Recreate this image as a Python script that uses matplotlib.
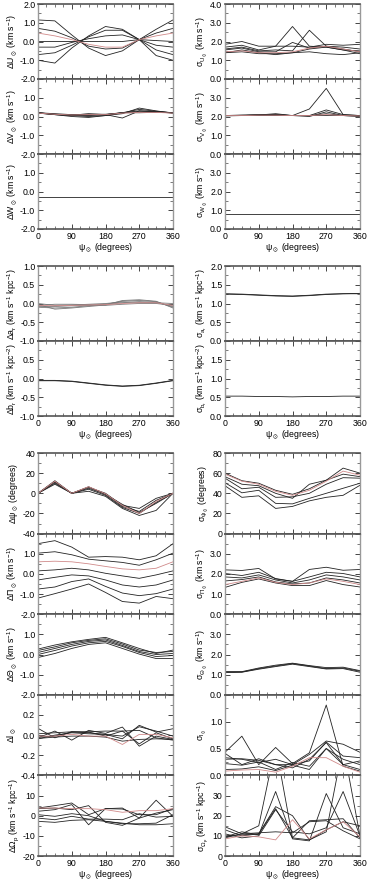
import numpy as np
import matplotlib
matplotlib.use('Agg')
import matplotlib.pyplot as plt
from matplotlib.ticker import MultipleLocator, FixedLocator

plt.rcParams['font.family'] = ['Liberation Sans', 'DejaVu Sans']
plt.rcParams['mathtext.default'] = 'regular'
plt.rcParams['axes.unicode_minus'] = False

psi = [0, 45, 90, 135, 180, 225, 270, 315, 360]

# ---- group 1: solar velocity ----
dU = [[1.15, 1.1, 0.35, -0.35, -0.75, -0.5, 0.1, 0.65, 1.15],
      [0.7, 0.55, 0.2, -0.25, -0.4, -0.35, 0.1, 0.45, 0.7],
      [0.0, 0.0, 0.0, 0.0, 0.0, 0.0, 0.1, 0.05, 0.0],
      [-0.3, -0.3, -0.05, 0.15, 0.3, 0.35, 0.1, -0.2, -0.3],
      [-0.7, -0.6, -0.2, 0.25, 0.6, 0.6, 0.1, -0.45, -0.7],
      [-1.0, -1.15, -0.35, 0.3, 0.8, 0.65, 0.1, -0.75, -1.0]]
dU_red = [0.45, 0.3, 0.1, -0.15, -0.3, -0.3, 0.1, 0.3, 0.45]

dV = [[0.2, 0.12, 0.08, 0.08, 0.1, 0.2, 0.38, 0.28, 0.2],
      [0.2, 0.1, 0.05, 0.0, 0.05, 0.15, 0.45, 0.3, 0.18],
      [0.18, 0.1, 0.07, 0.15, 0.1, -0.08, 0.3, 0.25, 0.18],
      [0.2, 0.12, 0.05, 0.05, 0.1, 0.2, 0.25, 0.25, 0.2],
      [0.18, 0.1, 0.0, -0.05, 0.05, 0.2, 0.2, 0.22, 0.2],
      [0.2, 0.15, 0.1, 0.12, 0.12, 0.2, 0.3, 0.25, 0.2]]
dV_red = [0.18, 0.12, 0.08, 0.1, 0.1, 0.18, 0.22, 0.22, 0.18]

dW = [[-0.3, -0.3, -0.3, -0.3, -0.3, -0.3, -0.3, -0.3, -0.3]]

sU = [[1.4, 1.45, 1.35, 1.35, 1.4, 1.45, 1.35, 1.3, 1.4],
      [1.4, 1.55, 1.4, 1.3, 1.4, 1.6, 1.7, 1.55, 1.5],
      [1.55, 1.65, 1.45, 1.45, 1.95, 1.65, 1.75, 1.6, 1.45],
      [1.7, 1.8, 1.55, 1.75, 2.8, 1.75, 1.7, 1.55, 1.35],
      [1.6, 1.7, 1.5, 1.55, 1.5, 2.6, 1.75, 1.7, 1.6],
      [1.85, 2.0, 1.75, 1.75, 1.75, 1.7, 1.85, 1.8, 1.85]]
sU_red = [1.45, 1.5, 1.4, 1.4, 1.45, 1.65, 1.75, 1.6, 1.45]

sV = [[2.05, 2.05, 2.08, 2.1, 2.05, 2.4, 3.5, 2.1, 2.05],
      [2.05, 2.08, 2.1, 2.1, 2.05, 2.05, 2.35, 2.1, 2.05],
      [2.05, 2.05, 2.08, 2.15, 2.05, 2.0, 2.25, 2.05, 2.0],
      [2.03, 2.05, 2.05, 2.08, 2.05, 2.05, 2.15, 2.05, 2.02],
      [2.05, 2.06, 2.07, 2.05, 2.05, 2.05, 2.05, 2.05, 2.05]]
sV_red = [2.05, 2.05, 2.07, 2.07, 2.05, 2.05, 2.1, 2.05, 2.03]

sW = [[0.8, 0.8, 0.8, 0.8, 0.8, 0.8, 0.8, 0.8, 0.8]]

# ---- group 2: radial velocity field ----
da = [[-0.05, -0.02, -0.02, -0.03, -0.05, -0.02, 0.0, 0.0, -0.05],
      [-0.08, -0.08, -0.06, -0.05, -0.03, 0.02, 0.05, 0.03, -0.08],
      [-0.1, -0.12, -0.1, -0.06, -0.02, 0.06, 0.08, 0.05, -0.1],
      [-0.03, -0.15, -0.12, -0.08, -0.04, 0.08, 0.1, 0.06, -0.12],
      [0.0, -0.05, -0.04, -0.02, 0.0, 0.04, 0.03, 0.02, 0.0]]
da_red = [-0.05, -0.06, -0.05, -0.04, -0.03, 0.0, 0.02, 0.02, -0.05]

db = [[-0.05, -0.05, -0.07, -0.12, -0.17, -0.2, -0.18, -0.12, -0.05],
      [-0.06, -0.06, -0.08, -0.13, -0.18, -0.21, -0.19, -0.13, -0.06]]

sa = [[1.26, 1.25, 1.23, 1.21, 1.2, 1.22, 1.25, 1.26, 1.27],
      [1.25, 1.24, 1.22, 1.2, 1.19, 1.21, 1.24, 1.26, 1.26]]

sb = [[0.53, 0.53, 0.52, 0.52, 0.51, 0.52, 0.52, 0.53, 0.53]]

# ---- group 3: spiral arm parameters ----
dpsi = [[0, 12.5, 0, 6, 0, -12, -15, -5, 0],
        [0, 11, 0, 5, -1, -13, -18, -7, 0],
        [0, 10, 0, 4, -2, -14, -20, -9, 0],
        [0, 9, 0, 2, -3, -15, -22, -17, 0],
        [0, 11.5, 0, 6.5, -1, -11, -19, -10, 0]]
dpsi_red = [0, 12, 0, 6.5, -0.5, -12, -20, -8, 0]

dPi = [[1.5, 1.65, 1.33, 0.83, 0.86, 0.83, 0.7, 0.9, 1.5],
       [1.03, 1.1, 0.95, 0.73, 0.65, 0.57, 0.43, 0.7, 1.03],
       [0.15, 0.2, 0.28, 0.2, 0.03, -0.1, -0.22, -0.05, 0.15],
       [-0.3, -0.17, -0.05, -0.1, -0.3, -0.55, -0.65, -0.55, -0.3],
       [-0.75, -0.65, -0.38, -0.25, -0.62, -0.95, -1.08, -0.98, -0.75],
       [-1.2, -0.98, -0.75, -0.5, -0.92, -1.37, -1.45, -1.12, -1.23]]
dPi_red = [0.6, 0.63, 0.6, 0.5, 0.37, 0.25, 0.2, 0.28, 0.6]

dTh = [[0.27, 0.47, 0.63, 0.75, 0.85, 0.58, 0.3, 0.05, 0.22],
       [0.2, 0.38, 0.58, 0.7, 0.78, 0.52, 0.22, 0.1, 0.15],
       [0.1, 0.3, 0.5, 0.65, 0.72, 0.45, 0.15, 0.0, 0.05],
       [0.0, 0.2, 0.42, 0.58, 0.65, 0.4, 0.1, -0.1, -0.05],
       [-0.15, 0.05, 0.3, 0.5, 0.58, 0.3, 0.02, -0.2, -0.2]]

dl = [[0.067, -0.027, 0.033, 0.023, 0.007, -0.037, 0.097, 0.03, 0.063],
      [-0.027, 0.04, -0.05, 0.047, 0.017, 0.08, -0.11, -0.01, -0.043],
      [-0.02, -0.01, 0.03, 0.033, 0.04, 0.04, -0.087, 0.023, -0.037],
      [-0.037, 0.0, 0.023, 0.013, 0.007, -0.01, 0.083, 0.04, -0.01],
      [-0.033, -0.02, -0.01, -0.01, -0.02, -0.06, -0.043, -0.037, -0.043],
      [0.013, 0.023, 0.033, 0.03, -0.01, 0.04, 0.047, -0.027, -0.05]]
dl_red = [-0.01, -0.01, 0.007, -0.01, -0.01, -0.093, 0.007, 0.007, -0.027]

dOm = [[3.8, 5, 6.3, 0.5, 3.5, 3.8, -1.2, 7.7, -0.3],
       [3.5, 3.8, 3, 5, -3.3, -4.8, -1.2, 1.3, 3],
       [2.2, 3, 5.5, -4.5, 3.5, 3.3, 0.5, 0.5, 3.5],
       [0.5, -0.3, 1, 0, -2.8, -4, -4, -3.7, 0.5],
       [-1.2, -2, -0.3, -1.7, -1.7, -2, 1, -0.7, -0.3],
       [-2.8, -3.3, -2.3, -2, -2.8, -3.7, -4.5, -4.5, -4]]
dOm_red = [3.8, 3.8, 3.5, 3.5, 3, 1.7, 2.5, 2.5, 3.5]

spsi = [[60, 52.5, 50, 43, 39, 44.5, 53, 65, 60],
        [56.5, 49, 47.5, 40, 35, 49, 53, 59, 56.5],
        [55, 44.5, 46, 36, 36.5, 40, 49, 55.5, 55],
        [50.5, 40.5, 43, 30, 29.5, 35, 40, 45, 50],
        [47.5, 36, 37.5, 25, 27, 32.5, 36, 38, 48]]
spsi_red = [59, 52, 49, 42, 38, 43, 52, 62, 58]

sPi = [[2.2, 2.17, 2.27, 1.75, 1.63, 2.22, 2.33, 2.18, 2.22],
       [2.02, 1.92, 2.08, 1.77, 1.63, 1.85, 2.08, 2.02, 1.85],
       [1.85, 1.8, 1.95, 1.7, 1.55, 1.7, 1.95, 1.85, 1.7],
       [1.65, 1.72, 1.85, 1.6, 1.5, 1.55, 1.8, 1.7, 1.55],
       [1.33, 1.58, 1.75, 1.55, 1.42, 1.42, 1.67, 1.47, 1.35]]
sPi_red = [1.47, 1.63, 1.8, 1.58, 1.47, 1.55, 1.75, 1.63, 1.47]

sTh = [[1.13, 1.13, 1.3, 1.43, 1.55, 1.43, 1.3, 1.33, 1.17],
       [1.15, 1.15, 1.33, 1.47, 1.57, 1.45, 1.35, 1.37, 1.2],
       [1.1, 1.12, 1.27, 1.4, 1.52, 1.4, 1.28, 1.3, 1.12]]

sl = [[0.43, 0.73, 0.2, 0.52, 0.22, 0.42, 1.31, 0.17, 0.08],
      [0.41, 0.2, 0.31, 0.2, 0.2, 0.39, 0.64, 0.58, 0.43],
      [0.33, 0.3, 0.24, 0.3, 0.2, 0.27, 0.62, 0.36, 0.33],
      [0.3, 0.31, 0.28, 0.2, 0.14, 0.3, 0.61, 0.2, 0.27],
      [0.22, 0.19, 0.25, 0.11, 0.24, 0.17, 0.5, 0.3, 0.2],
      [0.11, 0.12, 0.16, 0.09, 0.19, 0.11, 0.5, 0.2, 0.11]]
sl_red = [0.08, 0.1, 0.11, 0.06, 0.17, 0.33, 0.33, 0.17, 0.06]

sOm = [[14.5, 11, 15, 55, 9, 8, 13, 17, 15],
       [9.5, 12, 10.5, 32, 8.5, 7.5, 31, 14, 11],
       [13, 10, 11, 24.5, 20, 8, 12, 55, 10],
       [10, 10.5, 11, 23.5, 9, 17.5, 18, 18.5, 9],
       [11, 9, 10, 23, 12, 11, 14, 32, 10],
       [9, 11, 11.5, 12, 11.5, 17, 17.5, 12.5, 8.5]]
sOm_red = [8.5, 10, 9.5, 8, 18, 8.5, 13, 17, 9.5]

W, H = 369, 883
fig = plt.figure(figsize=(W / 100, H / 100), dpi=100)
FS = 6.3


def panel(x0, top, h, lines, red, ylim, major, ylabel, fmt,
          top_label=False, xlabels=False, color='#222222'):
    ax = fig.add_axes([x0 / W, 1 - (top + h) / H, 135 / W, h / H])
    for y in lines:
        ax.plot(psi, y, color=color, lw=0.6)
    if red is not None:
        ax.plot(psi, red, color='#d08a8a', lw=0.6)
    ax.set_xlim(0, 360)
    ax.set_ylim(*ylim)
    ax.xaxis.set_major_locator(MultipleLocator(90))
    ax.xaxis.set_minor_locator(MultipleLocator(22.5))
    ticks = np.arange(ylim[0], ylim[1] + major / 2, major)
    ax.yaxis.set_major_locator(FixedLocator(ticks))
    ax.yaxis.set_minor_locator(MultipleLocator(major / 2))
    labs = [fmt % t for t in ticks]
    if not top_label:
        labs[-1] = ''
    ax.set_yticklabels(labs)
    ax.tick_params(which='both', direction='in', top=True, right=True,
                   labelsize=FS, pad=2, color='#444444')
    ax.tick_params(which='major', length=3.5, width=0.7)
    ax.tick_params(which='minor', length=2, width=0.5)
    for s in ['top', 'bottom']:
        ax.spines[s].set_color('#555555')
        ax.spines[s].set_linewidth(1.2)
    for s in ['left', 'right']:
        ax.spines[s].set_color('#999999')
        ax.spines[s].set_linewidth(1.0)
    ax.set_ylabel(ylabel, fontsize=FS, labelpad=1)
    if xlabels:
        ax.set_xlabel(r'$\psi_\odot$ (degrees)', fontsize=FS, labelpad=1)
    else:
        ax.set_xticklabels([])
    return ax


L, R = 38, 225
kms = r' (km s$^{-1}$)'
kpc1 = r' (km s$^{-1}$ kpc$^{-1}$)'
kpc2 = r' (km s$^{-1}$ kpc$^{-2}$)'

# group 1
panel(L, 4, 75, dU, dU_red, (-2, 2), 1.0, r'$\Delta U_\odot$' + kms, '%.1f', top_label=True)
panel(L, 79, 75, dV, dV_red, (-2, 2), 1.0, r'$\Delta V_\odot$' + kms, '%.1f')
panel(L, 154, 75, dW, None, (-2, 2), 1.0, r'$\Delta W_\odot$' + kms, '%.1f', xlabels=True)
panel(R, 4, 75, sU, sU_red, (0, 4), 1.0, r'$\sigma_{U_\odot}$' + kms, '%.1f', top_label=True)
panel(R, 79, 75, sV, sV_red, (0, 4), 1.0, r'$\sigma_{V_\odot}$' + kms, '%.1f')
panel(R, 154, 75, sW, None, (0, 4), 1.0, r'$\sigma_{W_\odot}$' + kms, '%.1f', xlabels=True)

# group 2
panel(L, 266, 75, da, da_red, (-1, 1), 0.5, r'$\Delta a_r$' + kpc1, '%.1f', top_label=True, color='#777777')
panel(L, 341, 75, db, None, (-1, 1), 0.5, r'$\Delta b_r$' + kpc2, '%.1f', xlabels=True)
panel(R, 266, 75, sa, None, (0, 2), 0.5, r'$\sigma_{a_r}$' + kpc1, '%.1f', top_label=True)
panel(R, 341, 75, sb, None, (0, 2), 0.5, r'$\sigma_{b_r}$' + kpc2, '%.1f', xlabels=True)

# group 3
h3 = 80.6
tops = [453 + i * h3 for i in range(5)]
panel(L, tops[0], h3, dpsi, dpsi_red, (-40, 40), 20, r'$\Delta\psi_\odot$ (degrees)', '%d', top_label=True)
panel(L, tops[1], h3, dPi, dPi_red, (-2, 2), 1.0, r'$\Delta\Pi_\odot$' + kms, '%.1f')
panel(L, tops[2], h3, dTh, None, (-2, 2), 1.0, r'$\Delta\Theta_\odot$' + kms, '%.1f')
panel(L, tops[3], h3, dl, dl_red, (-0.4, 0.4), 0.2, r'$\Delta l_\odot$', '%.1f')
panel(L, tops[4], h3, dOm, dOm_red, (-20, 20), 10, r'$\Delta\Omega_p$' + kpc1, '%d', xlabels=True)
panel(R, tops[0], h3, spsi, spsi_red, (0, 80), 20, r'$\sigma_{\psi_\odot}$ (degrees)', '%d', top_label=True)
panel(R, tops[1], h3, sPi, sPi_red, (0, 4), 1.0, r'$\sigma_{\Pi_\odot}$' + kms, '%.1f')
panel(R, tops[2], h3, sTh, None, (0, 4), 1.0, r'$\sigma_{\Theta_\odot}$' + kms, '%.1f')
panel(R, tops[3], h3, sl, sl_red, (0, 1.5), 0.5, r'$\sigma_{l_\odot}$', '%.1f')
panel(R, tops[4], h3, sOm, sOm_red, (0, 40), 10, r'$\sigma_{\Omega_p}$' + kpc1, '%d', xlabels=True)

fig.savefig('out.png', dpi=100)
